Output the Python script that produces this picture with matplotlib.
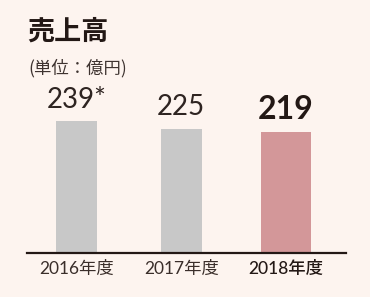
import matplotlib.pyplot as plt

# data
years = ['2016年度', '2017年度', '2018年度']
sales = [239, 225, 219]
value_labels = ['239*', '225', '219']

bg = '#fdf4ef'
dark = '#231815'
bar_colors = ['#c8c8c8', '#c8c8c8', '#d39799']
bar_widths = [0.39, 0.39, 0.48]

W, H = 370, 297
fig = plt.figure(figsize=(W / 100, H / 100), dpi=100)
fig.patch.set_facecolor(bg)

# axes placed in pixel coordinates: baseline at y=253, line from x=27 to 346
ax_left, ax_right, ax_base, ax_top = 27, 346, 253, 40
ax = fig.add_axes([ax_left / W, (H - ax_base) / H,
                   (ax_right - ax_left) / W, (ax_base - ax_top) / H])
ax.set_facecolor(bg)

x = list(range(len(years)))
ax.bar(x, sales, width=bar_widths, color=bar_colors)

# 132 px for 239 -> scale
ax.set_ylim(0, 239 * (ax_base - ax_top) / 132)
ax.set_xlim(-0.4726, 2.573)

fonts = ['Lato', 'Noto Sans CJK JP', 'DejaVu Sans']
for i, (v, lab) in enumerate(zip(sales, value_labels)):
    last = i == len(sales) - 1
    ax.annotate(lab, (i, v), xytext=(0, 6), textcoords='offset points',
                ha='center', va='bottom', fontsize=20 if not last else 23,
                fontweight='bold' if last else 'normal',
                color='#2e2421' if not last else dark, family=fonts)

for s in ['top', 'right', 'left']:
    ax.spines[s].set_visible(False)
ax.spines['bottom'].set_color(dark)
ax.spines['bottom'].set_linewidth(1.6)
ax.set_yticks([])
ax.set_xticks(x)
ax.set_xticklabels(years, family=fonts, fontsize=12.5, color='#3a2e2a')
ax.get_xticklabels()[-1].set_fontweight('medium')
ax.get_xticklabels()[-1].set_color(dark)
ax.tick_params(axis='x', length=0, pad=6)

fig.text(27 / W, 1 - 18 / H, '売上高', family=['Noto Sans CJK JP'],
         fontsize=19.5, fontweight='bold', color=dark, va='top', ha='left')
fig.text(28 / W, 1 - 59 / H, '(単位：億円)', family=['Noto Sans CJK JP'],
         fontsize=12.5, color='#3e3330', va='top', ha='left')

fig.savefig('out.png', dpi=100, facecolor=bg)
